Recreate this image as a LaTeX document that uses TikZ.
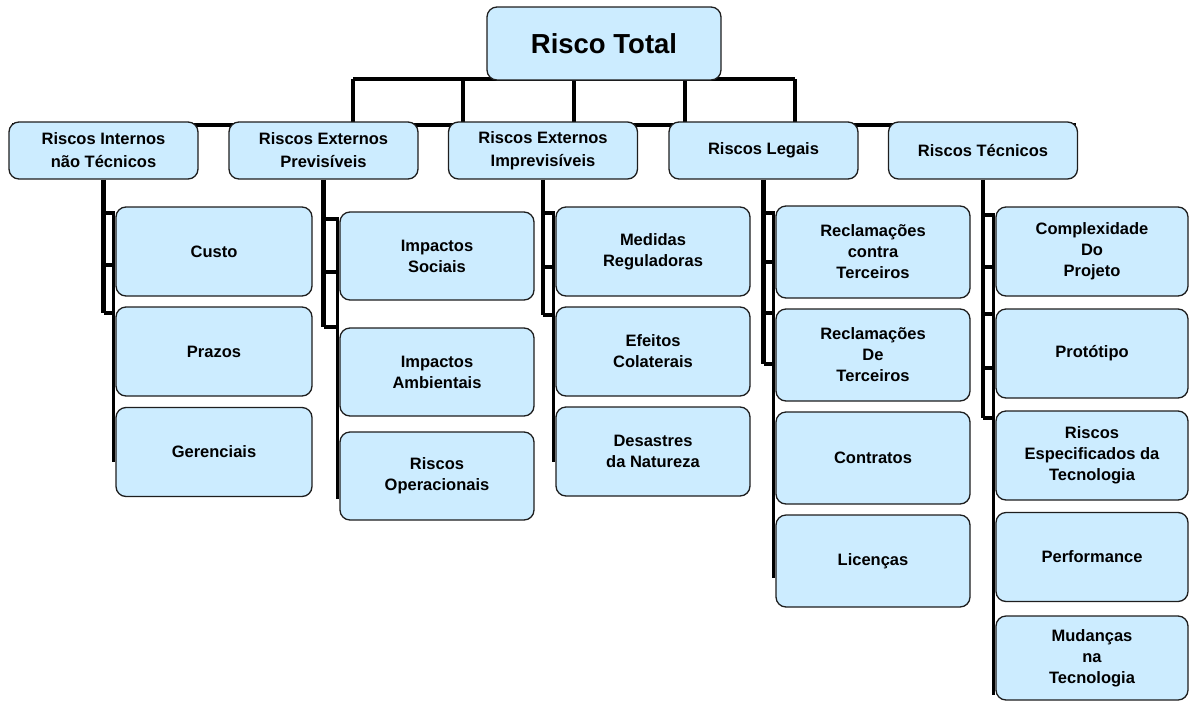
\documentclass[tikz,border=0pt]{standalone}
\usepackage{fontspec}
\setmainfont{Liberation Sans}
\usetikzlibrary{calc}
\pgfdeclarelayer{back}
\pgfsetlayers{back,main}
\definecolor{boxblue}{RGB}{204,236,255}
\definecolor{boxline}{RGB}{30,30,30}
\begin{document}
\begin{tikzpicture}[x=1pt,y=-1pt,
  box/.style={draw=boxline, line width=1.3pt, fill=boxblue, rounded corners=10pt,
    align=center, inner sep=2pt, font=\bfseries\fontsize{16.5}{21}\selectfont},
  rootbox/.style={box, minimum width=234, minimum height=73,
    font=\bfseries\fontsize{27.5}{31}\selectfont},
  branch/.style={box, minimum width=189, minimum height=57,
    font=\bfseries\fontsize{16.5}{23}\selectfont},
  leaf/.style={box, minimum height=89},
  bus/.style={line width=4.2pt, black},
  stem/.style={line width=2.8pt, black}]
\useasboundingbox (0,0) rectangle (1191,702);

% bus points under the root and the line along the branch row
\coordinate (b1) at (353,79);
\coordinate (b2) at (463,79);
\coordinate (b3) at (574,79);
\coordinate (b4) at (685,79);
\coordinate (b5) at (795,79);
\coordinate (rowL) at (12,125);
\coordinate (rowR) at (1076,125);

% ---- boxes ----
\node[rootbox] (rt) at (604,43.5) {Risco Total};

\node[branch] (l1) at (103.5,150.5) {Riscos Internos\\não Técnicos};
\node[branch] (l2) at (323.5,150.5) {Riscos Externos\\Previsíveis};
\node[branch] (l3) at (543,150.5)   {Riscos Externos\\Imprevisíveis};
\node[branch] (l4) at (763.5,150.5) {Riscos Legais};
\node[branch] (l5) at (983,150.5)   {Riscos Técnicos};

\begin{scope}[every node/.append style={leaf, minimum width=196}]
\node (c11) at (214,251.5) {Custo};
\node (c12) at (214,351.5) {Prazos};
\node (c13) at (214,452)   {Gerenciais};
\end{scope}
\begin{scope}[every node/.append style={leaf, minimum width=194, minimum height=88}]
\node (c21) at (437,256) {Impactos\\Sociais};
\node (c22) at (437,372) {Impactos\\Ambientais};
\node (c23) at (437,476) {Riscos\\Operacionais};
\end{scope}
\begin{scope}[every node/.append style={leaf, minimum width=194}]
\node (c31) at (653,251.5) {Medidas\\Reguladoras};
\node (c32) at (653,351.5) {Efeitos\\Colaterais};
\node (c33) at (653,451.5) {Desastres\\da Natureza};
\end{scope}
\begin{scope}[every node/.append style={leaf, minimum width=194, minimum height=92}]
\node (c41) at (873,252) {Reclamações\\contra\\Terceiros};
\node (c42) at (873,355) {Reclamações\\De\\Terceiros};
\node (c43) at (873,458) {Contratos};
\node (c44) at (873,561) {Licenças};
\end{scope}
\begin{scope}[every node/.append style={leaf, minimum width=192}]
\node (c51) at (1092,251.5) {Complexidade\\Do\\Projeto};
\node (c52) at (1092,353.5) {Protótipo};
\node (c53) at (1092,455.5) {Riscos\\Especificados da\\Tecnologia};
\node (c54) at (1092,557)   {Performance};
\node[minimum height=84] (c55) at (1092,658) {Mudanças\\na\\Tecnologia};
\end{scope}

% ---- connectors, behind the boxes ----
\begin{pgfonlayer}{back}
  % root to the row of branches
  \draw[bus] (b1) -- (b5);
  \foreach \b in {b1,b2,b3,b4,b5}
    \draw[bus] (\b) -- (\b |- rowL);
  \draw[bus] (rowL) -- (rowR);

  % column brackets: trunk, stubs to the leaves, stem along the leaves
  \draw[bus] (l1.south) -- (l1.south |- 0,313);
  \foreach \y in {213,265,313}
    \draw[bus] (l1.south |- 0,\y) -- (c11.west |- 0,\y);
  \draw[stem] ($(c11.west |- 0,213)+(-2,0)$) -- ($(c13.south west)+(-2,-35)$);

  \draw[bus] (l2.south) -- (l2.south |- 0,327);
  \foreach \y in {219,272,327}
    \draw[bus] (l2.south |- 0,\y) -- (c21.west |- 0,\y);
  \draw[stem] ($(c21.west |- 0,219)+(-2,0)$) -- ($(c23.south west)+(-2,-22)$);

  \draw[bus] (l3.south) -- (l3.south |- 0,315);
  \foreach \y in {213,267,315}
    \draw[bus] (l3.south |- 0,\y) -- (c31.west |- 0,\y);
  \draw[stem] ($(c31.west |- 0,213)+(-2,0)$) -- ($(c33.south west)+(-2,-35)$);

  \draw[bus] (l4.south) -- (l4.south |- 0,364);
  \foreach \y in {213,262,313,364}
    \draw[bus] (l4.south |- 0,\y) -- (c41.west |- 0,\y);
  \draw[stem] ($(c41.west |- 0,213)+(-2,0)$) -- ($(c44.south west)+(-2,-30)$);

  \draw[bus] (l5.south) -- (l5.south |- 0,418);
  \foreach \y in {215,267,314,368,418}
    \draw[bus] (l5.south |- 0,\y) -- (c51.west |- 0,\y);
  \draw[stem] ($(c51.west |- 0,215)+(-2,0)$) -- ($(c55.south west)+(-2,-6)$);
\end{pgfonlayer}
\end{tikzpicture}
\end{document}
